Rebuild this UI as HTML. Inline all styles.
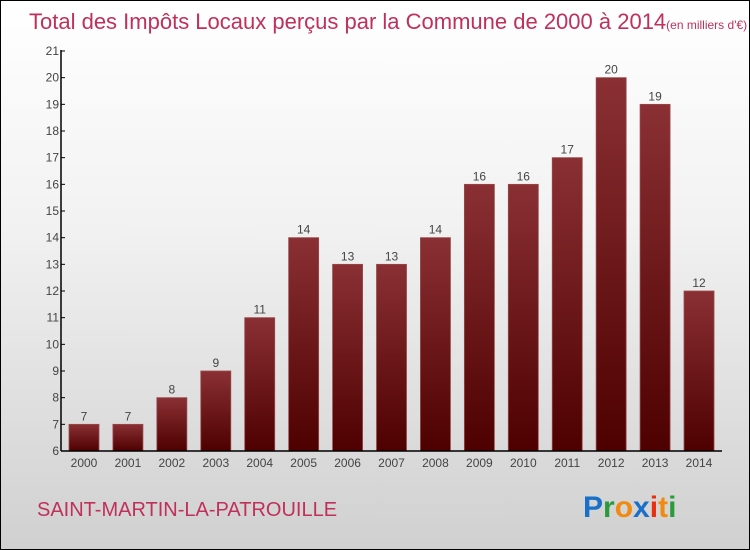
<!DOCTYPE html>
<html><head><meta charset="utf-8"><style>
body{margin:0;}
#wrap{width:750px;height:550px;position:relative;box-sizing:border-box;border:1px solid #000;background:linear-gradient(#ffffff,#f2f2f2 40%,#d0d0d0);overflow:hidden;font-family:"Liberation Sans",sans-serif;}
svg{position:absolute;left:0;top:0;}
</style></head><body>
<div id="wrap">
<svg id="chart" width="750" height="550">
<defs><linearGradient id="bg" x1="0" y1="0" x2="0" y2="1"><stop offset="0" stop-color="#8a3034"/><stop offset="1" stop-color="#4e0000"/></linearGradient></defs>
<text x="28" y="28" font-size="22" fill="#c0305a">Total des Impôts Locaux perçus par la Commune de 2000 à 2014<tspan font-size="12">(en milliers d'€)</tspan></text>
<text x="36" y="515" font-size="20" fill="#c0305a">SAINT-MARTIN-LA-PATROUILLE</text>
<text x="582" y="516" font-size="30" font-weight="bold"><tspan fill="#1a6fc8">P</tspan><tspan fill="#2a9a3a">r</tspan><tspan fill="#f08a10">o</tspan><tspan fill="#1a6fc8">x</tspan><tspan fill="#e83010">i</tspan><tspan fill="#f08a10">t</tspan><tspan fill="#2a9a3a">i</tspan></text>
</svg></div>
<script>
const categories=["2000","2001","2002","2003","2004","2005","2006","2007","2008","2009","2010","2011","2012","2013","2014"];
const values=[7,7,8,9,11,14,13,13,14,16,16,17,20,19,12];
const yTicks=[6,7,8,9,10,11,12,13,14,15,16,17,18,19,20,21];
const svg=document.getElementById('chart');
const NS='http://www.w3.org/2000/svg';
const yMin=6,yMax=21,y0=450,y1=50;
const y=v=>y0-(v-yMin)/(yMax-yMin)*(y0-y1);
const x=i=>83+i*43.93;
function mk(t,a){const e=document.createElementNS(NS,t);for(const k in a)e.setAttribute(k,a[k]);svg.appendChild(e);return e;}
yTicks.forEach(t=>{
 const l=mk('line',{x1:60,x2:64,y1:y(t),y2:y(t),stroke:'#000'});
 
 
 const tx=mk('text',{x:58,y:y(t)+4,'font-size':12,'text-anchor':'end',fill:'#444'});
 tx.textContent=t;
 
 
});
categories.forEach((c,i)=>{
 const v=values[i];
 const r=mk('rect',{x:x(i)-15,y:y(v),width:30,height:y0-y(v),fill:'url(#bg)',stroke:'#9a4a4a','stroke-width':0.8});
 
 
 const vt=mk('text',{x:x(i),y:y(v)-4,'font-size':12,'text-anchor':'middle',fill:'#444'});
 vt.textContent=v;
 
 
 const ct=mk('text',{x:x(i),y:466,'font-size':12,'text-anchor':'middle',fill:'#444'});
 ct.textContent=c;
 
 
});
const ya=mk('line',{x1:60,x2:60,y1:49,y2:450,stroke:'#000','stroke-width':1.5});


const xa=mk('line',{x1:60,x2:721,y1:450,y2:450,stroke:'#000','stroke-width':1.5});


</script>
</body></html>
